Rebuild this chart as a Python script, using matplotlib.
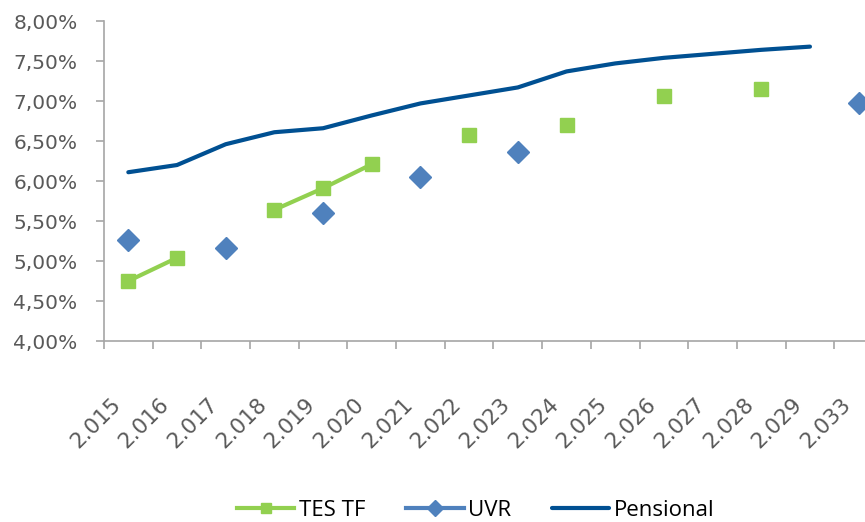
import numpy as np
import matplotlib
matplotlib.use("Agg")
import matplotlib.pyplot as plt
from matplotlib.ticker import FuncFormatter
from matplotlib.transforms import ScaledTranslation

# Data (percent)
years = ["2.015", "2.016", "2.017", "2.018", "2.019", "2.020", "2.021", "2.022",
         "2.023", "2.024", "2.025", "2.026", "2.027", "2.028", "2.029", "2.033"]
nan = np.nan
tes_tf = [4.75, 5.04, nan, 5.64, 5.91, 6.21, nan, 6.58,
          nan, 6.70, nan, 7.06, nan, 7.15, nan, nan]
uvr = [5.26, nan, 5.16, nan, 5.60, nan, 6.05, nan,
       6.36, nan, nan, nan, nan, nan, nan, 6.97]
pensional = [6.11, 6.20, 6.46, 6.61, 6.66, 6.82, 6.97, 7.07,
             7.17, 7.37, 7.47, 7.54, 7.59, 7.64, 7.68, nan]

GREEN = "#92D050"
BLUE = "#4F81BD"
DARK = "#005092"
GRAY = "#595959"
AXIS = "#A6A6A6"

fig = plt.figure(figsize=(8.65, 5.22), dpi=100)
ax = fig.add_axes([0.1202, 0.3467, 0.9006, 0.613])

x = np.arange(len(years))
ax.plot(x, tes_tf, color=GREEN, lw=3, marker="s", ms=9.5, label="TES TF", zorder=3)
ax.plot(x, uvr, color=BLUE, lw=3, marker="D", ms=11, label="UVR", zorder=3)
ax.plot(x, pensional, color=DARK, lw=3, solid_capstyle="round", label="Pensional", zorder=2)

ax.set_xlim(-0.5, len(years) - 0.5)
ax.set_ylim(4.0, 8.0)
ax.set_yticks(np.arange(4.0, 8.01, 0.5))
ax.yaxis.set_major_formatter(FuncFormatter(lambda v, p: f"{v:.2f}%".replace(".", ",")))

# category boundaries as ticks, labels at centers
ax.set_xticks(np.arange(-0.5, len(years), 1.0))
ax.set_xticklabels([])
ax.set_xticks(x, minor=True)
ax.set_xticklabels(years, minor=True, rotation=45, ha="right", rotation_mode="anchor")
ax.tick_params(axis="x", which="minor", length=0, pad=38, labelsize=15.5, labelcolor=GRAY)
ax.tick_params(axis="x", which="major", length=6, color=AXIS, width=1.2)
ax.tick_params(axis="y", length=6, pad=13, color=AXIS, width=1.2, labelsize=14.5,
               labelcolor=GRAY)
shift = ScaledTranslation(-18 / 100, 0, fig.dpi_scale_trans)
for lab in ax.get_xticklabels(minor=True):
    lab.set_transform(lab.get_transform() + shift)

for s in ["top", "right"]:
    ax.spines[s].set_visible(False)
for s in ["left", "bottom"]:
    ax.spines[s].set_color(AXIS)
    ax.spines[s].set_linewidth(1.2)

fig.legend(loc="lower center", bbox_to_anchor=(0.55, -0.036), ncol=3, frameon=False,
           handlelength=2.6, handletextpad=0.22, columnspacing=1.8, markerscale=0.75,
           prop={"family": "Open Sans", "size": 16})

fig.savefig("out.png", dpi=100)
